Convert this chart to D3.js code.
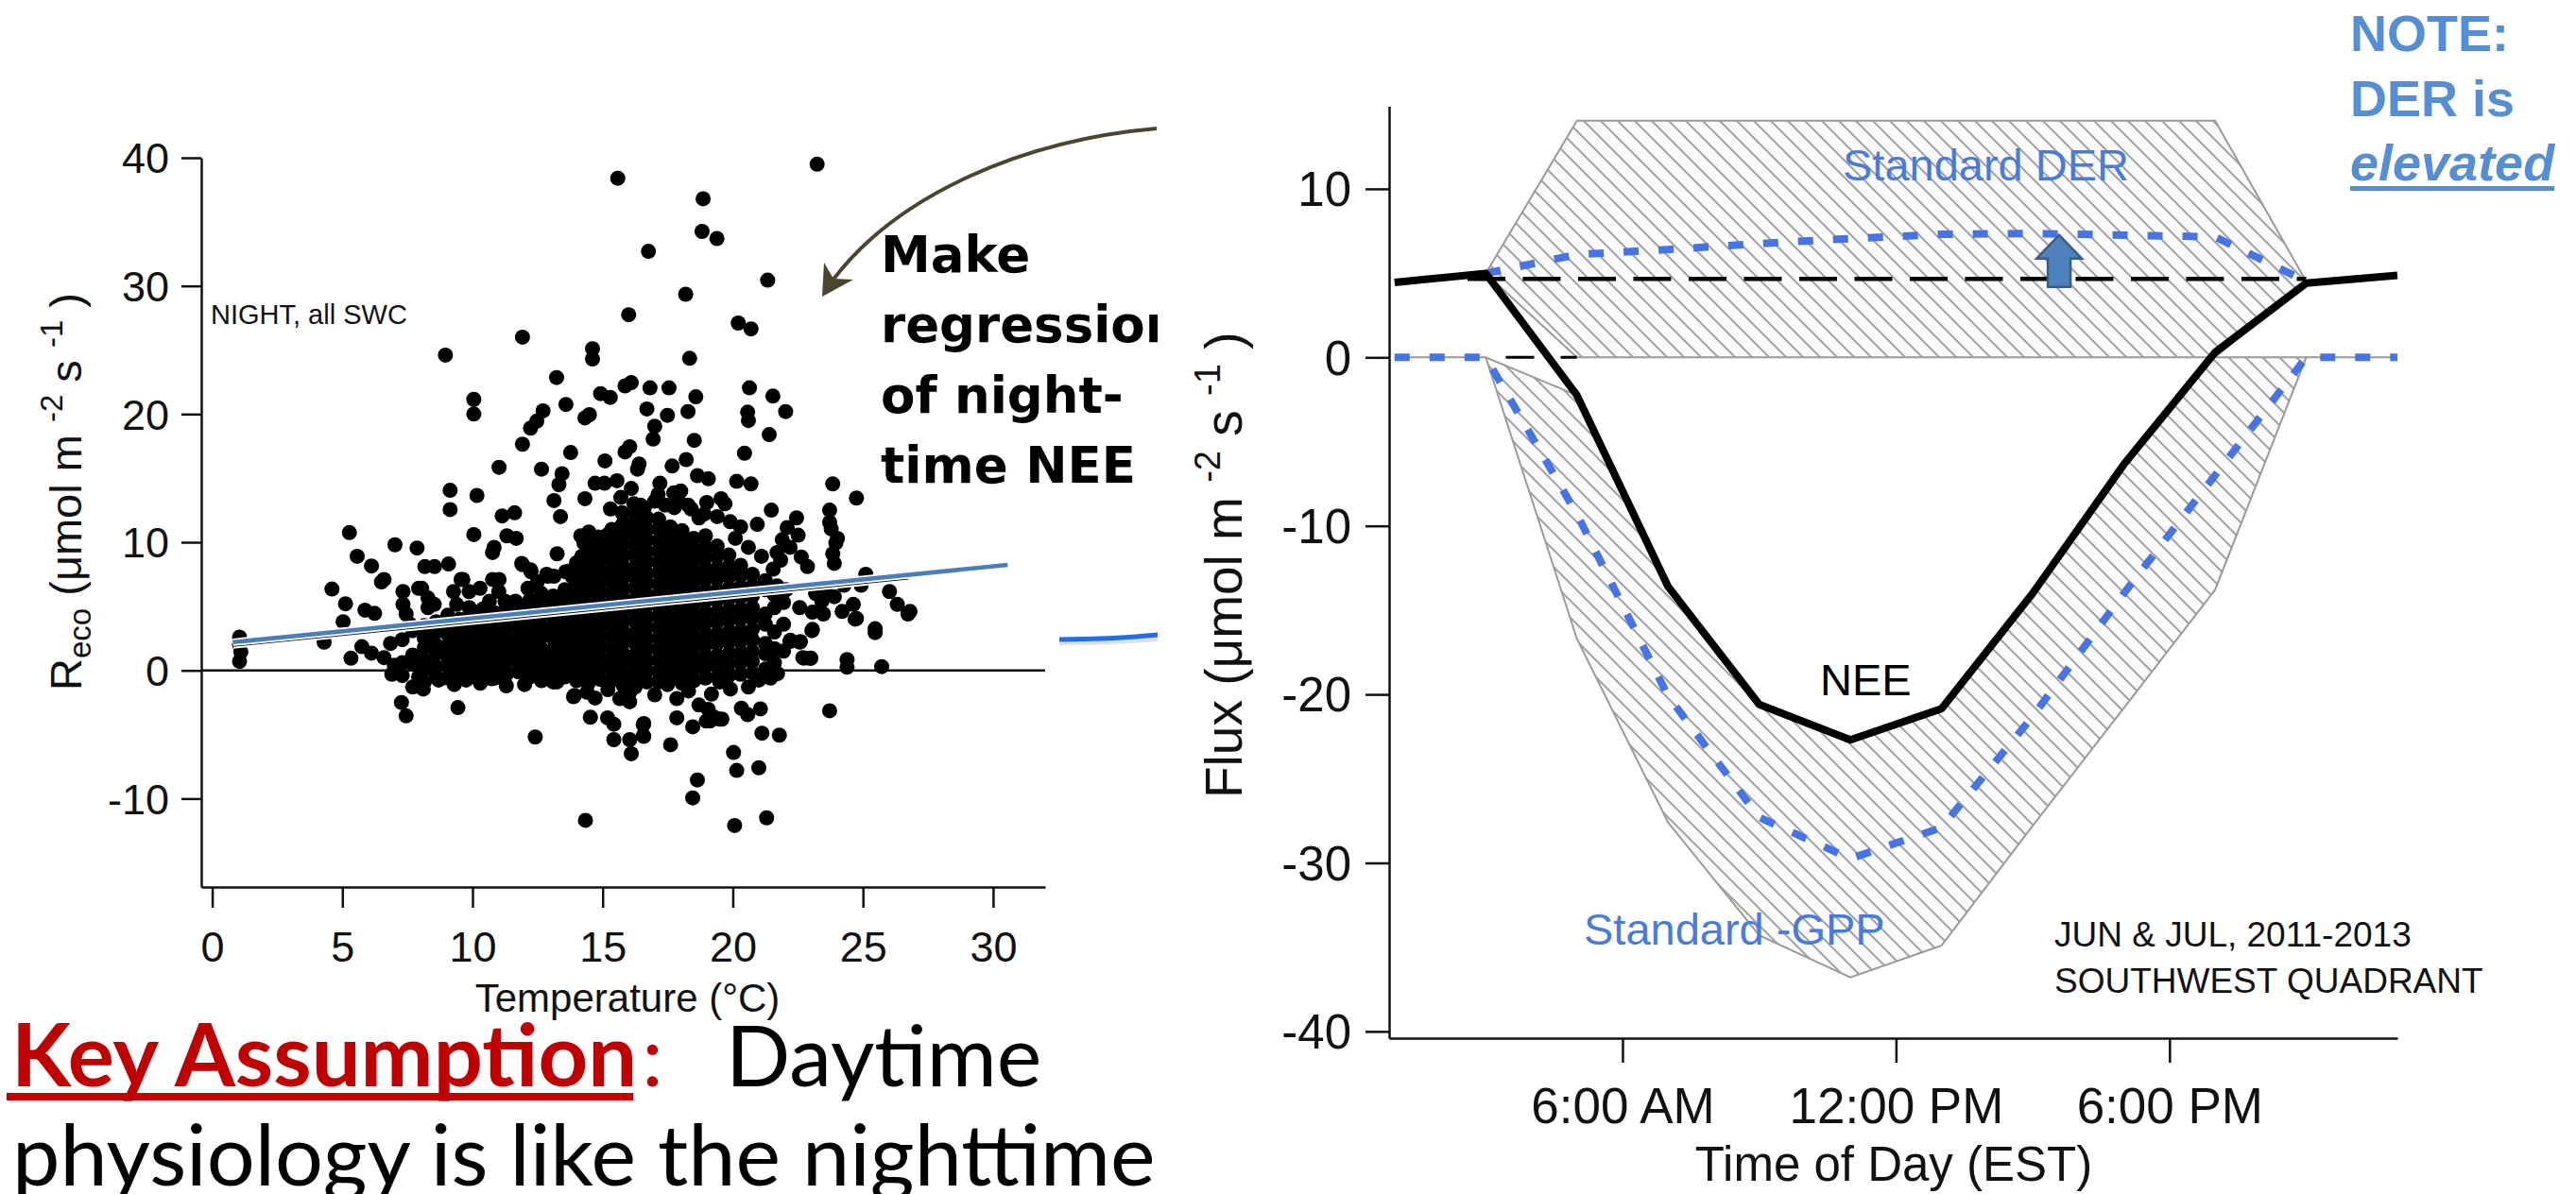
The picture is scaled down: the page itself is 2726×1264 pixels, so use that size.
<!DOCTYPE html>
<html>
<head>
<meta charset="utf-8">
<title>Night-time respiration regression and diurnal flux partitioning</title>
<script src="https://cdn.jsdelivr.net/npm/d3@7/dist/d3.min.js"></script>
<style>
  html, body { margin: 0; padding: 0; background: #ffffff; }
  svg { display: block; }
</style>
</head>
<body>
<svg id="slide" width="2726" height="1264"></svg>
<script>
// ---------------- Left panel: night-time Reco vs air temperature ----------------
// Individual night-time observations [temperature °C, Reco µmol m-2 s-1]
const nightPoints = [
  [15.58,38.4],[23.24,39.5],[18.86,36.8],[18.82,34.25],[19.39,33.7],[16.76,32.7],[21.34,30.45],[18.19,29.35],
  [16.0,27.75],[20.21,27.1],[20.7,26.65],[11.92,26.0],[8.96,24.6],[14.61,25.1],[14.61,24.3],[18.34,24.35],
  [13.23,22.85],[15.86,22.2],[16.1,22.45],[16.82,22.05],[17.55,22.05],[18.58,21.35],[20.64,22.05],[21.54,21.4],
  [22.03,20.2],[10.05,21.15],[10.05,20.0],[14.92,21.6],[15.29,21.3],[13.59,20.75],[12.71,20.25],[12.47,19.45],
  [12.23,18.9],[14.32,19.7],[14.49,19.95],[16.7,20.4],[17.49,19.9],[18.28,20.2],[17.0,19.05],[20.57,20.15],
  [20.6,19.5],[11.92,17.65],[15.86,17.05],[13.77,17.0],[16.94,18.05],[18.52,17.95],[21.4,18.4],[20.45,16.95],
  [16.04,17.45],[16.4,16.1],[17.67,15.95],[18.21,16.45],[11.02,15.85],[12.65,15.7],[15.09,16.35],[13.44,15.35],
  [13.32,14.5],[14.71,14.6],[15.07,14.6],[15.55,14.8],[9.14,14.05],[9.14,12.55],[10.17,13.65],[13.13,13.25],
  [14.32,13.4],[13.38,12.0],[11.14,12.05],[11.62,12.3],[5.27,10.75],[10.05,10.6],[11.32,10.5],[11.68,10.3],
  [14.28,9.95],[14.77,10.2],[15.19,10.0],[7.02,9.8],[7.87,9.55],[10.83,9.6],[23.84,14.55],[24.75,13.45],
  [20.15,14.75],[20.7,14.55],[18.64,15.2],[19.06,14.95],[16.34,15.7],[17.13,13.75],[17.73,13.85],[19.55,13.4],
  [18.28,12.9],[21.48,12.5],[23.72,12.5],[23.72,11.55],[22.45,11.9],[22.09,11.15],[20.94,11.4],[24.02,10.3],
  [5.57,8.9],[6.12,8.15],[8.17,8.1],[8.54,8.1],[9.08,8.3],[10.77,9.2],[13.25,9.1],[11.92,8.25],[12.23,7.85],
  [12.89,7.35],[13.13,7.35],[9.56,7.1],[11.02,7.1],[6.5,6.9],[6.6,7.1],[4.6,6.35],[7.93,6.4],[13.74,7.75],
  [14.1,6.4],[5.12,5.2],[5.87,4.7],[6.24,4.45],[5.03,3.8],[4.3,2.2],[5.33,0.95],[1.05,2.6],[1.05,2.0],
  [1.1,1.45],[1.05,0.7],[5.75,1.85],[6.12,1.35],[6.6,1.0],[6.9,-0.3],[7.87,0.5],[7.93,-0.5],[8.11,-1.45],
  [7.27,-2.5],[7.45,-3.55],[9.44,-2.9],[8.6,-0.5],[9.14,-0.5],[9.87,-0.5],[10.77,-0.5],[12.41,-5.2],
  [14.34,-11.7],[13.92,-1.95],[14.71,-2.15],[14.53,-3.65],[15.19,-3.7],[15.43,-4.2],[15.43,-5.4],
  [7.33,6.15],[7.33,5.15],[7.45,4.4],[8.05,6.4],[8.29,5.65],[8.53,5.15],[8.29,4.9],[9.27,6.15],[9.63,7.1],
  [9.87,6.15],[9.39,5.15],[9.87,4.9],[10.29,6.4],[10.77,7.1],[11.01,6.15],[10.65,5.4],[11.25,5.4],[11.89,8.35],
  [12.25,7.7],[12.13,6.4],[12.49,6.9],[11.65,5.4],[12.85,7.5],[13.58,7.7],[13.82,7.35],[13.94,6.4],
  [14.16,10.5],[14.47,10.8],[14.83,10.4],[15.2,10.6],[15.56,10.3],[14.2,8.9],[14.6,8.7],[15.0,9.0],[15.5,8.8],
  [15.7,11.2],[15.75,12.3],[15.7,13.5],[15.3,12.6],
  [23.78,11.05],[23.96,9.95],[23.84,9.1],[23.9,8.35],[22.63,8.85],[22.87,8.1],[21.84,8.6],[22.51,10.55],
  [25.11,7.5],[26.02,6.15],[26.32,5.15],[26.81,4.6],[24.93,6.65],[24.27,6.65],[24.63,5.15],[24.2,4.6],
  [24.75,4.05],[25.47,3.25],[25.47,2.95],[23.66,5.9],[23.9,5.75],[23.18,6.0],[23.42,5.4],[22.57,4.9],
  [23.06,4.55],[23.48,4.4],[23.06,3.2],[22.21,2.35],[22.57,2.2],[22.69,1.0],[23.0,0.95],[24.39,0.85],
  [24.39,0.25],[25.72,0.3],[21.72,-0.25],[23.72,-3.15],[20.33,-2.95],[20.57,-3.45],[21.06,-3.0],[19.91,-1.45],
  [19.18,-1.85],[17.85,-2.2],[17.49,-1.1],[16.04,-1.7],[16.04,-2.45],[18.7,-2.7],[19.06,-3.05],[19.48,-3.8],
  [19.12,-3.95],[17.85,-3.7],[18.46,-4.4],[16.58,-4.15],[16.58,-5.15],[16.04,-5.4],[16.1,-6.5],[17.61,-5.8],
  [21.12,-4.9],[21.79,-5.05],[20.03,-6.4],[20.15,-7.8],[21.0,-7.6],[18.64,-8.55],[18.46,-9.95],[20.07,-12.1],
  [21.3,-11.5],[21.0,-0.75],[15.66,-2.2],[15.98,-1.75],[16.56,-4.25],[16.56,-5.1],[13.88,-2.05],[12.83,-0.5],
  [13.24,-0.9],[10.73,-0.65],[8.05,-1.35],[9.75,-0.75],[8.7,-0.75],[18.98,-3.95],[19.28,-3.65],[19.58,-3.8],
  [24.7,4.0],[22.2,2.25],[22.6,2.25],[23.04,3.1],[26.73,4.4],[22.74,0.95],[22.97,0.95],
  [16.2,13.0],[16.6,12.7],[17.0,13.2],[17.4,12.9],[17.9,13.3],[18.4,12.6],[18.9,12.2],[19.4,12.0],[19.9,11.6],
  [20.3,11.2],[19.0,13.1],[16.1,14.2],[17.2,14.6],[18.0,14.0],[19.7,13.0],[21.9,10.2],[22.2,9.6],[21.7,9.2],
  [21.55,7.9],[21.7,6.6],[22.05,6.3],[21.45,-0.6],[20.6,-1.3],[19.5,-0.9],[18.3,-1.6],[17.0,-1.9],[15.2,-1.5],
  [14.4,-1.7],[12.0,-1.1],[11.3,-1.2],[10.3,-1.0],[9.3,-1.1],[7.0,0.4],[7.6,3.6],[6.85,2.1],[20.1,10.3],
  [20.6,9.6],[21.1,8.9],[18.7,11.9],[17.75,12.7],[16.45,12.9],[14.7,9.9]
];

// Densely overlapping core of the cloud, one temperature column per row: [°C, Reco, Reco, ...]
const nightCloudColumns = [
  [7.3, -0.4, 0.6, 2.4],
  [7.7, -1.3, 0.5, 1.2, 3.1],
  [8.15, -0.9, 0.1, 0.8, 1.8, 2.5, 3.5],
  [8.6, -0.5, 0.3, 1.3, 2.0, 3.0, 3.8],
  [9.05, -0.6, 0.3, 1.0, 1.9, 2.8, 3.6, 4.3],
  [9.5, -0.2, 0.6, 1.5, 2.3, 3.2, 4.0],
  [9.95, -0.5, 0.4, 1.1, 2.0, 2.9, 3.7, 4.5],
  [10.4, -0.2, 0.7, 1.6, 2.4, 3.2, 4.1, 4.8],
  [10.85, -0.6, 0.2, 1.1, 2.0, 2.7, 3.6, 4.5],
  [11.3, -0.3, 0.6, 1.4, 2.3, 3.2, 4.0, 4.9],
  [11.75, -0.1, 0.8, 1.6, 2.5, 3.3, 4.2, 5.0],
  [12.2, -0.5, 0.3, 1.2, 2.1, 2.9, 3.7, 4.6, 5.5],
  [12.65, -0.8, 0.1, 0.9, 1.7, 2.6, 3.4, 4.3, 5.2, 6.0],
  [13.1, -0.9, -0.1, 0.7, 1.6, 2.5, 3.3, 4.1, 5.0, 5.8],
  [13.55, -0.5, 0.4, 1.2, 2.1, 2.9, 3.8, 4.7, 5.5, 6.3],
  [14.0, -0.8, 0.0, 0.9, 1.7, 2.6, 3.5, 4.3, 5.1, 6.0, 6.9, 7.7, 8.4],
  [14.45, -1.0, -0.2, 0.6, 1.5, 2.3, 3.2, 4.1, 4.9, 5.7, 6.6, 7.4, 8.3, 9.2],
  [14.9, -0.7, 0.2, 1.0, 1.9, 2.8, 3.6, 4.4, 5.3, 6.2, 7.0, 7.8, 8.7, 9.5, 10.3],
  [15.35, -0.8, 0.0, 0.9, 1.7, 2.6, 3.5, 4.3, 5.1, 6.0, 6.9, 7.7, 8.5, 9.4, 10.2, 11.0],
  [15.8, -1.2, -0.4, 0.5, 1.3, 2.2, 3.0, 3.9, 4.8, 5.6, 6.4, 7.3, 8.1, 9.0, 9.9, 10.7, 11.5],
  [16.25, -1.3, -0.5, 0.4, 1.2, 2.1, 2.9, 3.8, 4.6, 5.5, 6.4, 7.2, 8.0, 8.9, 9.7, 10.6, 11.4, 12.2],
  [16.7, -0.9, 0.0, 0.8, 1.7, 2.5, 3.4, 4.2, 5.1, 5.9, 6.8, 7.6, 8.5, 9.3, 10.2, 11.0, 11.9],
  [17.15, -0.9, -0.1, 0.8, 1.6, 2.5, 3.3, 4.2, 5.0, 5.9, 6.7, 7.6, 8.4, 9.3, 10.1, 11.0, 11.8],
  [17.6, -0.7, 0.2, 1.0, 1.9, 2.7, 3.6, 4.4, 5.3, 6.1, 7.0, 7.8, 8.7, 9.5, 10.4, 11.2],
  [18.05, -1.0, -0.2, 0.7, 1.5, 2.4, 3.2, 4.1, 4.9, 5.8, 6.6, 7.5, 8.3, 9.2, 10.0, 10.9],
  [18.5, -0.8, 0.1, 0.9, 1.8, 2.6, 3.5, 4.3, 5.2, 6.0, 6.9, 7.7, 8.6, 9.4, 10.3],
  [18.95, -0.6, 0.3, 1.1, 2.0, 2.8, 3.7, 4.5, 5.4, 6.2, 7.1, 7.9, 8.8, 9.6, 10.5],
  [19.4, -0.5, 0.4, 1.2, 2.1, 2.9, 3.8, 4.6, 5.5, 6.3, 7.2, 8.0, 8.9, 9.7],
  [19.85, -0.4, 0.5, 1.3, 2.2, 3.0, 3.9, 4.7, 5.6, 6.4, 7.3, 8.1, 9.0],
  [20.3, -0.3, 0.6, 1.4, 2.3, 3.1, 4.0, 4.8, 5.7, 6.5, 7.4, 8.2],
  [20.75, -0.2, 0.7, 1.5, 2.4, 3.2, 4.1, 4.9, 5.8, 6.6, 7.5],
  [21.25, 0.1, 1.3, 2.1, 3.6, 4.4, 6.3, 7.0],
  [21.6, 0.6, 1.7, 3.0, 4.9, 5.9],
  [21.95, 1.5, 3.6, 5.3]
];

const tempTicks = [0, 5, 10, 15, 20, 25, 30];
const recoTicks = [-10, 0, 10, 20, 30, 40];
// Regression fits through the night-time cloud (end points)
const fitTemp = [0.8, 30.56];
const fitReco = [2.2, 8.23];
const fitTempAlt = [0.8, 26.74];
const fitRecoAlt = [1.95, 7.2];

// ---------------- Right panel: diurnal composite fluxes (2-h bins, EST) ----------------
const hours = [1, 3, 5, 7, 9, 11, 13, 15, 17, 19, 21, 23];
const neeFlux = [4.45, 4.98, -2.25, -13.6, -20.6, -22.7, -20.85, -14.0, -6.35, 0.3, 4.4, 4.87];
const gppFlux = [0, 0, -9.3, -20.1, -27.3, -29.75, -27.9, -21.3, -14.0, -7.0, 0, 0];
const derHours = [3, 5, 7, 9, 11, 13, 15, 17, 19, 21];
const derFlux = [4.98, 6.1, 6.4, 6.75, 7.05, 7.3, 7.35, 7.25, 7.15, 4.5];
// Uncertainty envelopes
const derRangeHours = [3, 5, 19, 21];
const derRangeLow = [4.98, 0, 0, 4.5];
const derRangeHigh = [4.98, 14.05, 14.05, 4.5];
const gppRangeHigh = [0, 0, -2.25, -13.6, -20.6, -22.7, -20.85, -14.0, -6.35, 0, 0, 0];
const gppRangeLow = [0, 0, -16.7, -27.6, -34.3, -36.8, -34.9, -27.8, -20.8, -13.8, 0, 0];
// Constant night-time respiration level and the hours it spans
const nightDerLevel = 4.65;
const nightDerHours = [2.6, 21.0];
const zeroDashHours = [3.44, 5.0];
// Elevated-DER arrow (hour, from level, to level)
const arrowHour = [15.58];
const arrowLevels = [4.18, 7.26];

const fluxTicks = [-40, -30, -20, -10, 0, 10];
const timeTicks = [6, 12, 18];
const timeLabels = ["6:00 AM", "12:00 PM", "6:00 PM"];

// ======================================================================
const svg = d3.select("#slide");
const SANS = "'Liberation Sans', Arial, Helvetica, sans-serif";
const BLUE_TXT = "#4a7bdc";
const BLUE_LINE = "#4674e6";

const defs = svg.append("defs");
const hatch = defs.append("pattern")
  .attr("id", "hatch").attr("patternUnits", "userSpaceOnUse")
  .attr("width", 18).attr("height", 18);
hatch.append("rect").attr("width", 18).attr("height", 18).attr("fill", "#fbfbfb");
hatch.append("path")
  .attr("d", "M0,0 L18,18 M-2,16 L2,20 M16,-2 L20,2")
  .attr("stroke", "#a3a3a3").attr("stroke-width", 2);

defs.append("clipPath").attr("id", "leftBox")
  .append("rect").attr("x", 0).attr("y", 0).attr("width", 1225).attr("height", 1264);

// ---------------- Left panel ----------------
const left = svg.append("g");
const xT = d3.scaleLinear().domain([-0.42, 32.0]).range([213, 1106]);
const yR = d3.scaleLinear().domain([-16.9, 40]).range([939, 167]);

const cloud = nightPoints.concat(
  nightCloudColumns.flatMap(col => col.slice(1).map(r => [col[0], r]))
);

// zero reference line
left.append("line")
  .attr("x1", xT.range()[0]).attr("x2", xT.range()[1])
  .attr("y1", yR(0)).attr("y2", yR(0))
  .attr("stroke", "#111").attr("stroke-width", 2.5);

left.append("g").selectAll("circle")
  .data(cloud).join("circle")
  .attr("cx", d => xT(d[0])).attr("cy", d => yR(d[1]))
  .attr("r", 8).attr("fill", "#000");

const fitLine = d3.line().x(d => xT(d[0])).y(d => yR(d[1]));
const altFit = fitTempAlt.map((t, i) => [t, fitRecoAlt[i]]);
const mainFit = fitTemp.map((t, i) => [t, fitReco[i]]);
left.append("path").attr("d", fitLine(altFit)).attr("stroke", "#fff").attr("stroke-width", 7).attr("fill", "none");
left.append("path").attr("d", fitLine(altFit)).attr("stroke", "#111").attr("stroke-width", 3).attr("fill", "none");
left.append("path").attr("d", fitLine(mainFit)).attr("stroke", "#fff").attr("stroke-width", 8).attr("fill", "none");
left.append("path").attr("d", fitLine(mainFit)).attr("stroke", "#4a7ebb").attr("stroke-width", 4.5).attr("fill", "none");

const yAxisL = left.append("g").attr("transform", `translate(${xT.range()[0]},0)`)
  .call(d3.axisLeft(yR).tickValues(recoTicks).tickSize(21).tickSizeOuter(0).tickPadding(13).tickFormat(d => String(d)));
const xAxisL = left.append("g").attr("transform", `translate(0,${yR.range()[0]})`)
  .call(d3.axisBottom(xT).tickValues(tempTicks).tickSize(22).tickSizeOuter(0).tickPadding(25).tickFormat(d => String(d)));
[yAxisL, xAxisL].forEach(g => {
  g.select(".domain").attr("stroke", "#111").attr("stroke-width", 2.5);
  g.selectAll(".tick line").attr("stroke", "#111").attr("stroke-width", 2.5);
  g.selectAll(".tick text").attr("font-family", SANS).attr("font-size", 45).attr("fill", "#111");
});
yAxisL.selectAll(".tick text").attr("dy", "0.35em");

left.append("text").attr("x", 223).attr("y", 343)
  .attr("font-family", SANS).attr("font-size", 29).attr("fill", "#111")
  .text("NIGHT, all SWC");

left.append("text").attr("x", 664).attr("y", 1071).attr("text-anchor", "middle")
  .attr("font-family", SANS).attr("font-size", 42).attr("fill", "#111")
  .text("Temperature (\u00B0C)");

const ylab = left.append("text").attr("transform", "translate(86,731) rotate(-90)")
  .attr("font-family", SANS).attr("font-size", 47).attr("fill", "#111");
ylab.append("tspan").text("R");
ylab.append("tspan").attr("font-size", 33).attr("dy", 10).text("eco");
ylab.append("tspan").attr("dy", -10).text("  (\u03BCmol m ");
ylab.append("tspan").attr("font-size", 33).attr("dy", -20).text("-2");
ylab.append("tspan").attr("dy", 20).text(" s ");
ylab.append("tspan").attr("font-size", 33).attr("dy", -20).text("-1");
ylab.append("tspan").attr("dy", 20).text(" )");

// annotation box (clipped by the neighbouring panel)
const note = svg.append("g").attr("clip-path", "url(#leftBox)");
note.append("path")
  .attr("d", "M1224,136 C1085,148 950,205 881,297")
  .attr("fill", "none").attr("stroke", "#4a4530").attr("stroke-width", 4);
note.append("path")
  .attr("d", "M870,314 L872,278 L882,295 L903,296 Z")
  .attr("fill", "#4a4530");
["Make", "regression", "of night-", "time NEE"].forEach((t, i) => {
  note.append("text").attr("x", 932).attr("y", [288, 362, 437, 511][i])
    .attr("font-family", "'DejaVu Sans', Verdana, sans-serif").attr("font-weight", "bold")
    .attr("font-size", 53).attr("fill", "#000").text(t);
});
note.append("path").attr("d", "M1121,680 Q1175,680 1226,676")
  .attr("fill", "none").attr("stroke", "#9aa6b8").attr("stroke-opacity", 0.35).attr("stroke-width", 6);
note.append("path").attr("d", "M1121,677 Q1175,677 1226,672")
  .attr("fill", "none").attr("stroke", "#1d6ef2").attr("stroke-width", 5);

// Key assumption text
const LATO = "Lato, 'Open Sans', sans-serif";
const key = svg.append("text").attr("x", 12).attr("y", 1150)
  .attr("font-family", LATO).attr("font-weight", "bold").attr("font-size", 92)
  .attr("fill", "#c00000").text("Key Assumption");
const keyLen = key.node().getComputedTextLength();
svg.append("rect").attr("x", 7).attr("y", 1157).attr("width", keyLen + 1).attr("height", 8).attr("fill", "#c00000");
svg.append("text").attr("x", 12 + keyLen + 5).attr("y", 1150)
  .attr("font-family", LATO).attr("font-size", 90).attr("fill", "#c00000").text(":");
svg.append("text").attr("x", 768).attr("y", 1150)
  .attr("font-family", LATO).attr("font-size", 90).attr("fill", "#000").text("Daytime");
svg.append("text").attr("x", 13).attr("y", 1255)
  .attr("font-family", LATO).attr("font-size", 90).attr("fill", "#000")
  .text("physiology is like the nighttime");

// ---------------- Right panel ----------------
const right = svg.append("g");
const xH = d3.scaleLinear().domain([0.88, 23.0]).range([1470, 2537]);
const yF = d3.scaleLinear().domain([-40.4, 14.9]).range([1099, 112.5]);

const band = (hrs, lo, hi) => d3.area()
  .x(i => xH(hrs[i])).y0(i => yF(lo[i])).y1(i => yF(hi[i]))(d3.range(hrs.length)) + "Z";

right.append("path").attr("d", band(derRangeHours, derRangeLow, derRangeHigh))
  .attr("fill", "url(#hatch)").attr("stroke", "#9a9a9a").attr("stroke-width", 2);
right.append("path").attr("d", band(hours, gppRangeLow, gppRangeHigh))
  .attr("fill", "url(#hatch)").attr("stroke", "#9a9a9a").attr("stroke-width", 2);

const hline = d3.line().x(d => xH(d[0])).y(d => yF(d[1]));
right.append("path").attr("d", hline(nightDerHours.map(h => [h, nightDerLevel])))
  .attr("fill", "none").attr("stroke", "#000").attr("stroke-width", 4.5).attr("stroke-dasharray", "40,18.5");
right.append("path").attr("d", hline(zeroDashHours.map(h => [h, 0])))
  .attr("fill", "none").attr("stroke", "#000").attr("stroke-width", 3).attr("stroke-dasharray", "30,28");

right.append("path").attr("d", hline(derHours.map((h, i) => [h, derFlux[i]])))
  .attr("fill", "none").attr("stroke", BLUE_LINE).attr("stroke-width", 8).attr("stroke-dasharray", "16,21");
right.append("path").attr("d", hline(hours.map((h, i) => [h, gppFlux[i]])))
  .attr("fill", "none").attr("stroke", BLUE_LINE).attr("stroke-width", 8).attr("stroke-dasharray", "16,21");
right.append("path").attr("d", hline(hours.map((h, i) => [h, neeFlux[i]])))
  .attr("fill", "none").attr("stroke", "#000").attr("stroke-width", 8).attr("stroke-linejoin", "round");

// elevated-DER arrow
{
  const ax = xH(arrowHour[0]), yb = yF(arrowLevels[0]), yt = yF(arrowLevels[1]);
  const yh = yt + 25;
  right.append("path")
    .attr("d", `M${ax - 12},${yb} L${ax - 12},${yh} L${ax - 24},${yh} L${ax},${yt} L${ax + 24},${yh} L${ax + 12},${yh} L${ax + 12},${yb} Z`)
    .attr("fill", "#4f81bd").attr("stroke", "#385d8a").attr("stroke-width", 2.5);
}

const yAxisR = right.append("g").attr("transform", `translate(${xH.range()[0]},0)`)
  .call(d3.axisLeft(yF).tickValues(fluxTicks).tickSize(25).tickSizeOuter(0).tickPadding(15).tickFormat(d => String(d)));
const xAxisR = right.append("g").attr("transform", `translate(0,${yF.range()[0]})`)
  .call(d3.axisBottom(xH).tickValues(timeTicks).tickSize(26).tickSizeOuter(0).tickPadding(26)
    .tickFormat((d, i) => timeLabels[i]));
[yAxisR, xAxisR].forEach(g => {
  g.select(".domain").attr("stroke", "#111").attr("stroke-width", 2.5);
  g.selectAll(".tick line").attr("stroke", "#111").attr("stroke-width", 2.5);
  g.selectAll(".tick text").attr("font-family", SANS).attr("fill", "#111");
});
yAxisR.selectAll(".tick text").attr("font-size", 51).attr("dy", "0.35em");
xAxisR.selectAll(".tick text").attr("font-size", 53);

right.append("text").attr("x", 2004).attr("y", 1250).attr("text-anchor", "middle")
  .attr("font-family", SANS).attr("font-size", 51).attr("fill", "#111")
  .text("Time of Day (EST)");

const flab = right.append("text").attr("transform", "translate(1314,845) rotate(-90)")
  .attr("font-family", SANS).attr("font-size", 55).attr("fill", "#111");
flab.append("tspan").text("Flux  (\u03BCmol m ");
flab.append("tspan").attr("font-size", 38).attr("dy", -23).text("-2");
flab.append("tspan").attr("dy", 23).text(" s ");
flab.append("tspan").attr("font-size", 38).attr("dy", -23).text("-1");
flab.append("tspan").attr("dy", 23).text(" )");

right.append("text").attr("x", 1950).attr("y", 191)
  .attr("font-family", SANS).attr("font-size", 47).attr("fill", BLUE_TXT).text("Standard DER");
right.append("text").attr("x", 1676).attr("y", 1000)
  .attr("font-family", SANS).attr("font-size", 47).attr("fill", BLUE_TXT).text("Standard -GPP");
right.append("text").attr("x", 1926).attr("y", 736)
  .attr("font-family", SANS).attr("font-size", 47).attr("fill", "#000").text("NEE");
right.append("text").attr("x", 2174).attr("y", 1002)
  .attr("font-family", SANS).attr("font-size", 37).attr("fill", "#111").text("JUN & JUL, 2011-2013");
right.append("text").attr("x", 2174).attr("y", 1051)
  .attr("font-family", SANS).attr("font-size", 37).attr("fill", "#111").text("SOUTHWEST QUADRANT");

// side note
const NOTE_BLUE = "#558ed5";
svg.append("text").attr("x", 2487).attr("y", 54)
  .attr("font-family", SANS).attr("font-weight", "bold").attr("font-size", 54).attr("fill", NOTE_BLUE).text("NOTE:");
svg.append("text").attr("x", 2487).attr("y", 123)
  .attr("font-family", SANS).attr("font-weight", "bold").attr("font-size", 54).attr("fill", NOTE_BLUE).text("DER is");
const elev = svg.append("text").attr("x", 2487).attr("y", 191)
  .attr("font-family", SANS).attr("font-weight", "bold").attr("font-style", "italic")
  .attr("font-size", 54).attr("fill", NOTE_BLUE).text("elevated");
svg.append("rect").attr("x", 2487).attr("y", 197)
  .attr("width", elev.node().getComputedTextLength()).attr("height", 5).attr("fill", NOTE_BLUE);
</script>
</body>
</html>
